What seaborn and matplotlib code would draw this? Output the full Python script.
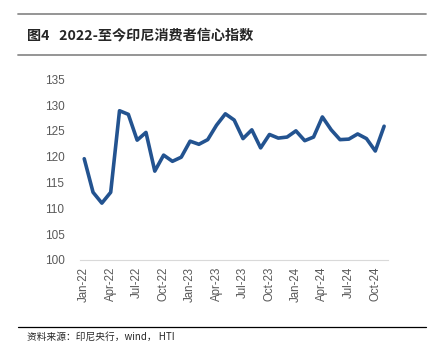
import pandas as pd
import numpy as np
import matplotlib.pyplot as plt
import seaborn as sns
from matplotlib.lines import Line2D

# monthly consumer confidence index, Jan-22 .. Nov-24
months = pd.date_range("2022-01-01", "2024-11-01", freq="MS").strftime("%b-%y").tolist()
cci = [119.6, 113.1, 111.0, 113.1, 128.9, 128.2, 123.2, 124.7, 117.2, 120.3, 119.1, 119.9,
       123.0, 122.4, 123.3, 126.1, 128.3, 127.1, 123.5, 125.2, 121.7, 124.3, 123.6, 123.8,
       125.0, 123.1, 123.8, 127.7, 125.2, 123.3, 123.4, 124.4, 123.5, 121.1, 125.9]
y_ticks = [100, 105, 110, 115, 120, 125, 130, 135]

df = pd.DataFrame({"month": months, "cci": cci})
df["idx"] = np.arange(len(df))

sns.set_style("white")
plt.rcParams['font.family'] = ['Noto Sans CJK SC', 'DejaVu Sans']

fig = plt.figure(figsize=(4.41, 3.57), dpi=100)
ax = fig.add_axes([0.181, 0.272, 0.699, 0.506])

sns.lineplot(data=df, x="idx", y="cci", ax=ax, color="#235390", linewidth=2.6)

ax.set_xlim(-0.45, 34.45)
ax.set_ylim(100, 135)
ax.set_yticks(y_ticks)
ax.set_yticklabels([str(v) for v in y_ticks], fontsize=8.5, color="#595959",
                   family=["Liberation Sans", "DejaVu Sans"])
ax.tick_params(axis="y", length=0, pad=11)

major = df["idx"][::3]
ax.set_xticks(major)
ax.set_xticklabels(df["month"][::3], rotation=90, fontsize=8.3, color="#595959",
                   family=["Liberation Sans", "DejaVu Sans"])
ax.set_xticks(np.arange(-0.5, 34.5, 3), minor=True)
ax.tick_params(axis="x", which="major", length=0, pad=5)
ax.tick_params(axis="x", which="minor", length=3, color="#d9d9d9", width=0.8)
ax.set_xlabel("")
ax.set_ylabel("")

for s in ["top", "right", "left"]:
    ax.spines[s].set_visible(False)
ax.spines["bottom"].set_color("#d9d9d9")
ax.spines["bottom"].set_linewidth(0.8)

# header and footer rules
fig.add_artist(Line2D([18/441, 426/441], [1-14/357, 1-14/357], color="#8c8c8c", lw=1.3))
fig.add_artist(Line2D([18/441, 426/441], [1-55/357, 1-55/357], color="#8c8c8c", lw=1.3))
fig.add_artist(Line2D([18/441, 426/441], [1-327/357, 1-327/357], color="black", lw=0.9))

fig.text(27/441, 1-35/357, "图4   2022-至今印尼消费者信心指数", fontsize=10.2,
         fontweight="bold", va="center", ha="left")
fig.text(27/441, 1-337/357, "资料来源：印尼央行，wind， HTI", fontsize=7,
         va="center", ha="left")

fig.savefig("out.png", dpi=100)
